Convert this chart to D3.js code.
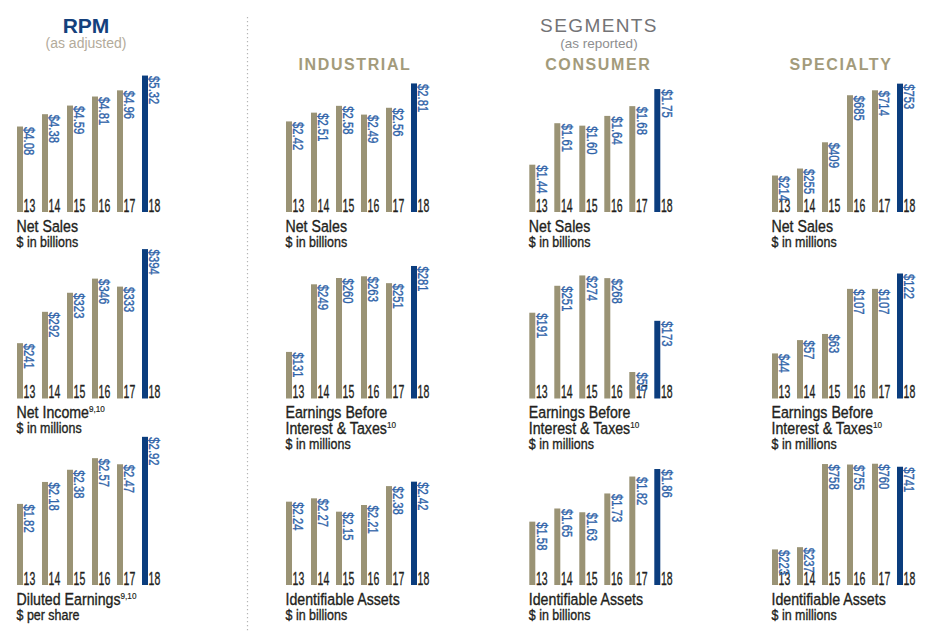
<!DOCTYPE html>
<html>
<head>
<meta charset="utf-8">
<script src="https://cdn.jsdelivr.net/npm/d3@7"></script>
<style>
  html, body { margin: 0; padding: 0; background: #ffffff; }
  svg { display: block; }
  text { font-family: "Liberation Sans", Arial, sans-serif; }
</style>
</head>
<body>
<svg id="chart" width="938" height="631"></svg>
<script>
// ---------------- data ----------------
const years = ["13", "14", "15", "16", "17", "18"];

const rpmNetSales         = [4.08, 4.38, 4.59, 4.81, 4.96, 5.32];
const rpmNetIncome        = [241, 292, 323, 346, 333, 394];
const rpmDilutedEarnings  = [1.82, 2.18, 2.38, 2.57, 2.47, 2.92];

const industrialNetSales  = [2.42, 2.51, 2.58, 2.49, 2.56, 2.81];
const industrialEBIT      = [131, 249, 260, 263, 251, 281];
const industrialAssets    = [2.24, 2.27, 2.15, 2.21, 2.38, 2.42];

const consumerNetSales    = [1.44, 1.61, 1.60, 1.64, 1.68, 1.75];
const consumerEBIT        = [191, 251, 274, 268, 59, 173];
const consumerAssets      = [1.58, 1.65, 1.63, 1.73, 1.82, 1.86];

const specialtyNetSales   = [214, 255, 409, 685, 714, 753];
const specialtyEBIT       = [44, 57, 63, 107, 107, 122];
const specialtyAssets     = [223, 237, 758, 755, 760, 741];

const columnTitles = ["", "INDUSTRIAL", "CONSUMER", "SPECIALTY"];

// metric descriptions (title lines, superscript, unit, value format)
const metricNetSalesB  = { lines: ["Net Sales"], sup: "", unit: "$ in billions", fmt: ".2f" };
const metricNetSalesM  = { lines: ["Net Sales"], sup: "", unit: "$ in millions", fmt: "d" };
const metricNetIncome  = { lines: ["Net Income"], sup: "9,10", unit: "$ in millions", fmt: "d" };
const metricDiluted    = { lines: ["Diluted Earnings"], sup: "9,10", unit: "$ per share", fmt: ".2f" };
const metricEBIT       = { lines: ["Earnings Before", "Interest & Taxes"], sup: "10", unit: "$ in millions", fmt: "d" };
const metricAssetsB    = { lines: ["Identifiable Assets"], sup: "", unit: "$ in billions", fmt: ".2f" };
const metricAssetsM    = { lines: ["Identifiable Assets"], sup: "", unit: "$ in millions", fmt: "d" };

// panels: [column, row, values, metric, value-axis domain]
const panels = [
  { col: 0, row: 0, values: rpmNetSales,        metric: metricNetSalesB, domain: [2.0, 5.65] },
  { col: 0, row: 1, values: rpmNetIncome,       metric: metricNetIncome, domain: [151, 395] },
  { col: 0, row: 2, values: rpmDilutedEarnings, metric: metricDiluted,   domain: [0.49, 2.95] },
  { col: 1, row: 0, values: industrialNetSales, metric: metricNetSalesB, domain: [1.49, 3.03] },
  { col: 1, row: 1, values: industrialEBIT,     metric: metricEBIT,      domain: [49.7, 311.5] },
  { col: 1, row: 2, values: industrialAssets,   metric: metricAssetsB,   domain: [1.49, 2.84] },
  { col: 2, row: 0, values: consumerNetSales,   metric: metricNetSalesB, domain: [1.246, 1.861] },
  { col: 2, row: 1, values: consumerEBIT,       metric: metricEBIT,      domain: [0, 334] },
  { col: 2, row: 2, values: consumerAssets,     metric: metricAssetsB,   domain: [1.243, 2.041] },
  { col: 3, row: 0, values: specialtyNetSales,  metric: metricNetSalesM, domain: [0, 880] },
  { col: 3, row: 1, values: specialtyEBIT,      metric: metricEBIT,      domain: [0, 146.4] },
  { col: 3, row: 2, values: specialtyAssets,    metric: metricAssetsM,   domain: [0, 940] }
];

// ---------------- layout & style ----------------
const colX = [17, 286, 529.3, 772];
const rowBottom = [212, 398.5, 585];
const plotH = 150;
const colorPast = "#9a9375";
const colorCurrent = "#0b3d7e";
const colorValue = "#2f63a8";
const colorText = "#231f20";

const svg = d3.select("#chart");

// condensed text helper: horizontal squeeze via transform, slight stroke for weight
function condText(parent, x, y, size, sx, str, color, rotate) {
  return parent.append("text")
    .attr("transform", `translate(${x},${y})${rotate ? " rotate(90)" : ""} scale(${sx},1)`)
    .attr("font-size", size)
    .attr("fill", color)
    .attr("stroke", color)
    .attr("stroke-width", 0.35)
    .text(str);
}

// divider
svg.append("line")
  .attr("x1", 247.5).attr("x2", 247.5)
  .attr("y1", 17).attr("y2", 631)
  .attr("stroke", "#b5b5b5").attr("stroke-width", 1.2)
  .attr("stroke-dasharray", "1.2,2.8");

// headers
svg.append("text")
  .attr("x", 86).attr("y", 33).attr("text-anchor", "middle")
  .attr("font-size", 21).attr("font-weight", "bold").attr("fill", "#14407c")
  .text("RPM");
svg.append("text")
  .attr("x", 86).attr("y", 48).attr("text-anchor", "middle")
  .attr("font-size", 14).attr("fill", "#b3ab9b")
  .text("(as adjusted)");
svg.append("text")
  .attr("x", 599).attr("y", 31.5).attr("text-anchor", "middle")
  .attr("font-size", 19).attr("letter-spacing", 1.4).attr("fill", "#737376")
  .text("SEGMENTS");
svg.append("text")
  .attr("x", 599).attr("y", 47.5).attr("text-anchor", "middle")
  .attr("font-size", 13.5).attr("fill", "#8e8e90")
  .text("(as reported)");

columnTitles.forEach((t, i) => {
  if (!t) return;
  svg.append("text")
    .attr("x", colX[i] + 69).attr("y", 70).attr("text-anchor", "middle")
    .attr("font-size", 16).attr("font-weight", "bold").attr("letter-spacing", 1.6)
    .attr("fill", "#a39b7b")
    .text(t);
});

// panels
panels.forEach(p => {
  const x0 = colX[p.col];
  const bottom = rowBottom[p.row];
  const x = d3.scaleBand().domain(years).range([x0, x0 + 131]).paddingInner(0.76).paddingOuter(0).align(0);
  const y = d3.scaleLinear().domain(p.domain).range([bottom, bottom - plotH]);
  const f = d3.format(p.metric.fmt);
  const g = svg.append("g");
  const data = years.map((yr, i) => ({ yr, v: p.values[i], last: i === years.length - 1 }));

  g.selectAll("rect").data(data).join("rect")
    .attr("x", d => x(d.yr))
    .attr("width", x.bandwidth())
    .attr("y", d => y(d.v))
    .attr("height", d => bottom - y(d.v))
    .attr("fill", d => d.last ? colorCurrent : colorPast);

  data.forEach(d => {
    // year label
    condText(g, x(d.yr) + x.bandwidth() + 0.6, bottom - 0.2, 17.5, 0.6, d.yr, colorText);
    // rotated value label
    condText(g, x(d.yr) + x.bandwidth() + 1.4, y(d.v) + 0.5, 14.5, 0.78, "$" + f(d.v), colorValue, true);
  });

  // title: one text element, one tspan per line
  const title = condText(g, x0 - 0.5, bottom + 19.5, 16.5, 0.86, null, colorText);
  p.metric.lines.forEach((line, li) => {
    title.append("tspan").attr("x", 0).attr("dy", li === 0 ? 0 : 16).text(line);
  });
  if (p.metric.sup) {
    title.append("tspan").attr("font-size", 9.5).attr("stroke-width", 0.2).attr("dy", -6).text(p.metric.sup);
  }
  const unitY = bottom + 19.5 + 16 * (p.metric.lines.length - 1) + 15;
  condText(g, x0 - 0.5, unitY, 14.5, 0.86, p.metric.unit, colorText);
});
</script>
</body>
</html>
